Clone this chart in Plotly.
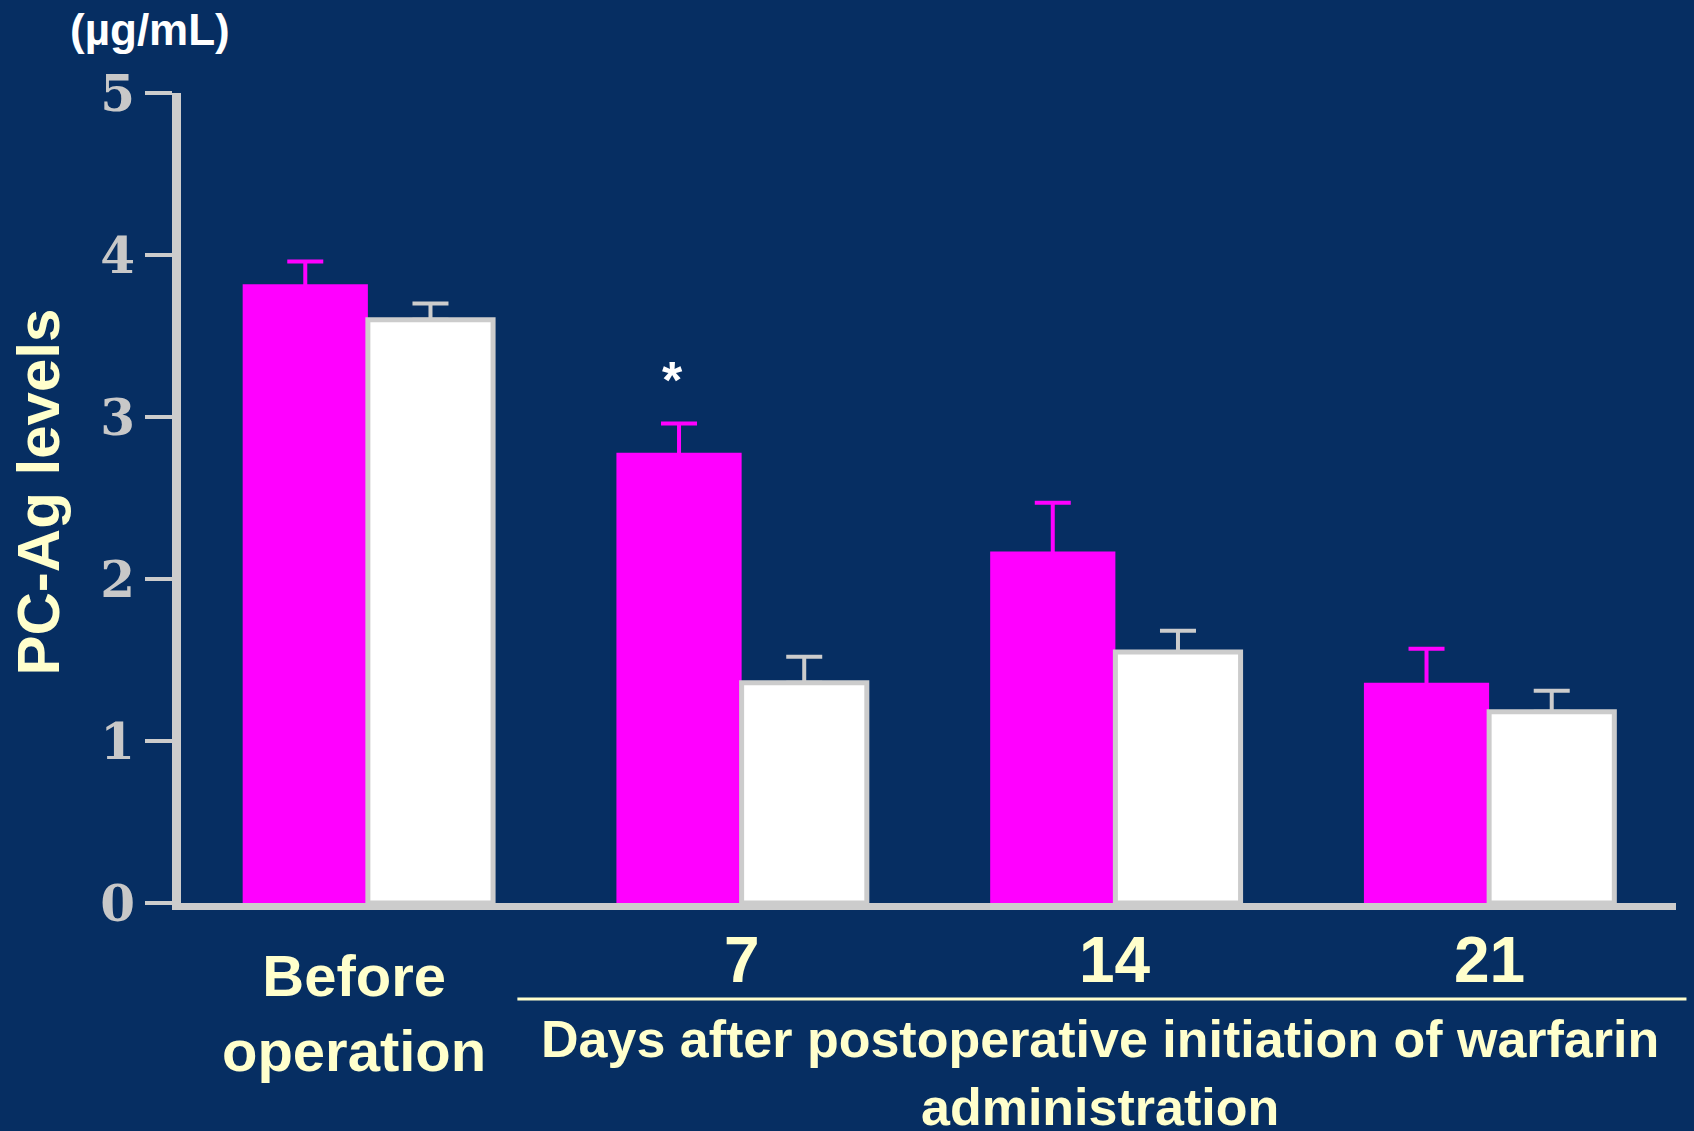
import plotly.graph_objects as go

# PC-Ag levels (µg/mL), mean ± SE
categories = ["Before operation", "7", "14", "21"]
pink_values = [3.82, 2.78, 2.17, 1.36]
pink_errors = [0.14, 0.18, 0.30, 0.21]
white_values = [3.60, 1.36, 1.55, 1.18]
white_errors = [0.10, 0.16, 0.13, 0.13]
y_ticks = [0, 1, 2, 3, 4, 5]

BG = "#062E62"
PINK = "#FF00FF"
GRAY = "#CCCCCC"
CREAM = "#FFFFCC"
SANS = "Liberation Sans, Arial, sans-serif"
SERIF = "DejaVu Serif, Liberation Serif, serif"

# only the upper whisker is drawn; the lower end is tucked just inside the bar
pink_lower = [0.02] * len(categories)
white_lower = [0] * len(categories)

fig = go.Figure()
fig.add_trace(go.Bar(
    x=categories, y=pink_values,
    marker=dict(color=PINK, line=dict(width=0)),
    error_y=dict(type="data", symmetric=False, array=pink_errors, arrayminus=pink_lower,
                 color=PINK, thickness=4, width=18),
    showlegend=False,
))
fig.add_trace(go.Bar(
    x=categories, y=white_values,
    marker=dict(color="#FFFFFF", line=dict(color=GRAY, width=5)),
    error_y=dict(type="data", symmetric=False, array=white_errors, arrayminus=white_lower,
                 color=GRAY, thickness=4, width=18),
    showlegend=False,
))

fig.update_layout(
    width=1694, height=1131,
    margin=dict(l=181, r=18, t=93, b=228),
    paper_bgcolor=BG, plot_bgcolor=BG,
    barmode="group", bargap=0.33, bargroupgap=0,
    xaxis=dict(
        type="category", range=[-0.5, 3.5],
        showline=True, linecolor=GRAY, linewidth=7,
        showticklabels=False, ticks="", showgrid=False, zeroline=False,
    ),
    yaxis=dict(
        range=[0, 5], tickvals=y_ticks,
        showline=True, linecolor=GRAY, linewidth=9,
        ticks="outside", ticklen=27, tickwidth=4, tickcolor=GRAY,
        tickfont=dict(family=SERIF, size=50, color="#C8C8C8", weight="bold"),
        showgrid=False, zeroline=False,
    ),
)

# group labels under the axis (category positions by index)
fig.add_annotation(x=0, y=-0.136, xref="x", yref="paper",
                   text="Before<br>operation", showarrow=False, xshift=-14,
                   xanchor="center", yanchor="middle",
                   font=dict(family=SANS, size=58, color=CREAM, weight="bold"))
for i, cat in enumerate(categories[1:], start=1):
    fig.add_annotation(x=i, y=-0.07, xref="x", yref="paper", text=cat,
                       showarrow=False, xanchor="center", yanchor="middle",
                       font=dict(family=SANS, size=64, color=CREAM, weight="bold"))

# bracket line over the post-operative days
fig.add_shape(type="line", xref="paper", yref="paper",
              x0=0.225, x1=1.007, y0=-0.1185, y1=-0.1185,
              line=dict(color=CREAM, width=3))
fig.add_annotation(x=0.6145, y=-0.21, xref="paper", yref="paper",
                   text="Days after postoperative initiation of warfarin<br>administration",
                   showarrow=False, xanchor="center", yanchor="middle",
                   font=dict(family=SANS, size=52, color=CREAM, weight="bold"))

# significance marker over the day-7 bar
fig.add_annotation(x=1, y=pink_values[1] + pink_errors[1] + 0.27,
                   xref="x", yref="y", text="*", showarrow=False, xshift=-69,
                   xanchor="center", yanchor="middle",
                   font=dict(family=SANS, size=52, color="#FFFFFF", weight="bold"))

# unit and axis title
fig.add_annotation(x=-0.0207, y=1.078, xref="paper", yref="paper", text="(µg/mL)",
                   showarrow=False, xanchor="center", yanchor="middle",
                   font=dict(family=SANS, size=44, color="#FFFFFF", weight="bold"))
fig.add_annotation(x=-0.095, y=0.508, xref="paper", yref="paper", text="PC-Ag levels",
                   textangle=-90, showarrow=False, xanchor="center", yanchor="middle",
                   font=dict(family=SANS, size=60, color=CREAM, weight="bold"))

fig.write_html("out.html")
